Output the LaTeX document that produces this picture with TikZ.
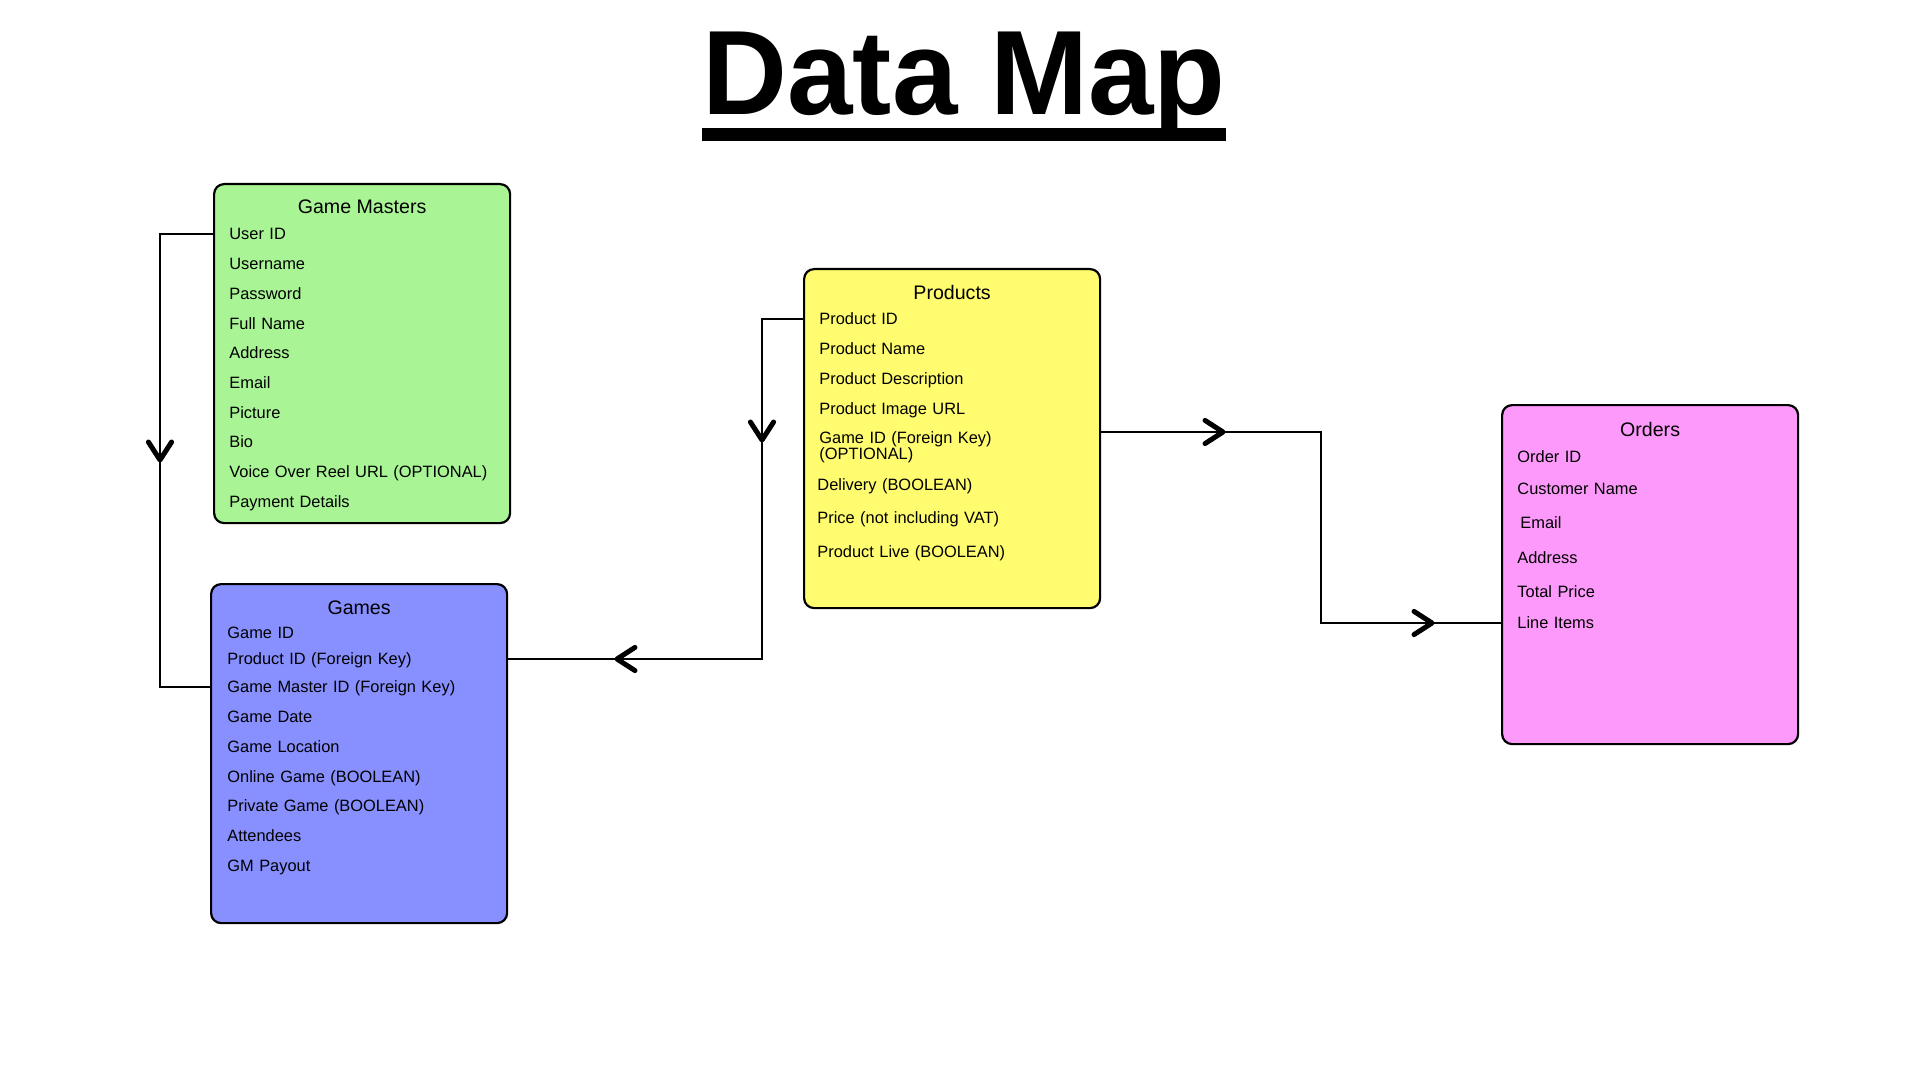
\documentclass[tikz,border=0pt]{standalone}
\usepackage{fontspec}
\setmainfont{Liberation Sans}
\newfontfamily\bigtitlefont[FakeStretch=0.98]{Liberation Sans Bold}
\usetikzlibrary{arrows.meta,positioning}

\definecolor{gmgreen}{RGB}{169,245,150}
\definecolor{gameblue}{RGB}{136,143,255}
\definecolor{prodyellow}{RGB}{255,252,112}
\definecolor{orderpink}{RGB}{253,153,251}

\tikzstyle{table} = [draw, rectangle, rounded corners=5pt, line width=1.1pt, minimum width=148pt, minimum height=169.5pt, anchor=north west, inner sep=0pt]
\tikzstyle{head} = [font=\fontsize{9.8}{11}\selectfont, text height=7pt, text depth=0pt, inner sep=0pt]
\tikzstyle{field} = [font=\fontsize{8.2}{8}\selectfont, text width=135pt, align=left, text height=5.9pt, text depth=0pt, inner sep=0pt]
\tikzstyle{link} = [draw, line width=0.9pt]
\tikzset{chevron/.pic={\draw[line width=2.5pt, line cap=round, line join=round] (-9pt,5.8pt) -- (0pt,0pt) -- (-9pt,-5.8pt);}}

\begin{document}
\begin{tikzpicture}[x=0.5pt, y=-0.5pt, node distance=14.85pt]
  \useasboundingbox (0,0) rectangle (1920,1080);

  \node[font=\bigtitlefont\fontsize{60}{60}\selectfont, text height=43pt, text depth=0pt, inner sep=0pt] (title) at (964,72) {Data Map};
  \draw[line width=6.5pt] ([yshift=-9.5pt]title.south west) -- ([yshift=-9.5pt]title.south east);

  % Game Masters
  \node[table, fill=gmgreen] (gm) at (213,183) {};
  \node[head, below=8pt of gm.north] (gmhead) {Game Masters};
  \node[field, anchor=west] (uid) at (229,234) {User ID};
  \node[field, below of=uid] (uname) {Username};
  \node[field, below of=uname] (upass) {Password};
  \node[field, below of=upass] (ufull) {Full Name};
  \node[field, below of=ufull] (uaddr) {Address};
  \node[field, below of=uaddr] (umail) {Email};
  \node[field, below of=umail] (upic) {Picture};
  \node[field, below of=upic] (ubio) {Bio};
  \node[field, below of=ubio] (ureel) {Voice Over Reel URL (OPTIONAL)};
  \node[field, below of=ureel] (upay) {Payment Details};

  % Games
  \node[table, fill=gameblue] (games) at (210,583) {};
  \node[head, below=8.5pt of games.north] (gameshead) {Games};
  \node[field, anchor=west] (gid) at (227,633) {Game ID};
  \node[field, below of=gid, node distance=13pt] (gpid) {Product ID (Foreign Key)};
  \node[field, below of=gpid, node distance=14pt] (gmid) {Game Master ID (Foreign Key)};
  \node[field, below of=gmid] (gdate) {Game Date};
  \node[field, below of=gdate] (gloc) {Game Location};
  \node[field, below of=gloc] (gonline) {Online Game (BOOLEAN)};
  \node[field, below of=gonline] (gprivate) {Private Game (BOOLEAN)};
  \node[field, below of=gprivate] (gatt) {Attendees};
  \node[field, below of=gatt] (gpay) {GM Payout};

  % Products
  \node[table, fill=prodyellow] (prod) at (803,268) {};
  \node[head, below=8.5pt of prod.north] (prodhead) {Products};
  \node[field, anchor=west] (pid) at (819,319) {Product ID};
  \node[field, below of=pid] (pname) {Product Name};
  \node[field, below of=pname] (pdesc) {Product Description};
  \node[field, below of=pdesc] (pimg) {Product Image URL};
  \node[field, below of=pimg, node distance=18.5pt, text depth=8pt] (pgid) {Game ID (Foreign Key)\\(OPTIONAL)};
  \node[field, below of=pgid, node distance=19.5pt, xshift=-1pt] (pdel) {Delivery (BOOLEAN)};
  \node[field, below of=pdel, node distance=16.5pt] (pprice) {Price (not including VAT)};
  \node[field, below of=pprice, node distance=17pt] (plive) {Product Live (BOOLEAN)};

  % Orders
  \node[table, fill=orderpink] (orders) at (1501,404) {};
  \node[head, below=9pt of orders.north] (ordershead) {Orders};
  \node[field, anchor=west] (oid) at (1517,457) {Order ID};
  \node[field, below of=oid, node distance=16pt] (ocust) {Customer Name};
  \node[field, below of=ocust, node distance=17pt, xshift=1.5pt] (omail) {Email};
  \node[field, below of=omail, node distance=17.5pt, xshift=-1.5pt] (oaddr) {Address};
  \node[field, below of=oaddr, node distance=17pt] (ototal) {Total Price};
  \node[field, below of=ototal, node distance=15.5pt] (olines) {Line Items};

  % links
  \coordinate (gmtip) at (160,460);
  \draw[link] (uid -| gm.west) -| (gmtip) |- (gmid -| games.west);
  \pic[rotate=-90] at (gmtip) {chevron};

  \coordinate (pdtip) at (762,440);
  \coordinate (gtip) at (617,659);
  \draw[link] (pid -| prod.west) -| (pdtip) |- (gtip) -- (gtip -| games.east);
  \pic[rotate=-90] at (pdtip) {chevron};
  \pic[rotate=180] at (gtip) {chevron};

  \coordinate (otip) at (1223,432);
  \coordinate (bend) at (1321,432);
  \coordinate (litip) at (1432,623);
  \draw[link] (otip -| prod.east) -- (bend) |- (litip) -- (olines -| orders.west);
  \pic at (otip) {chevron};
  \pic at (litip) {chevron};
\end{tikzpicture}
\end{document}
